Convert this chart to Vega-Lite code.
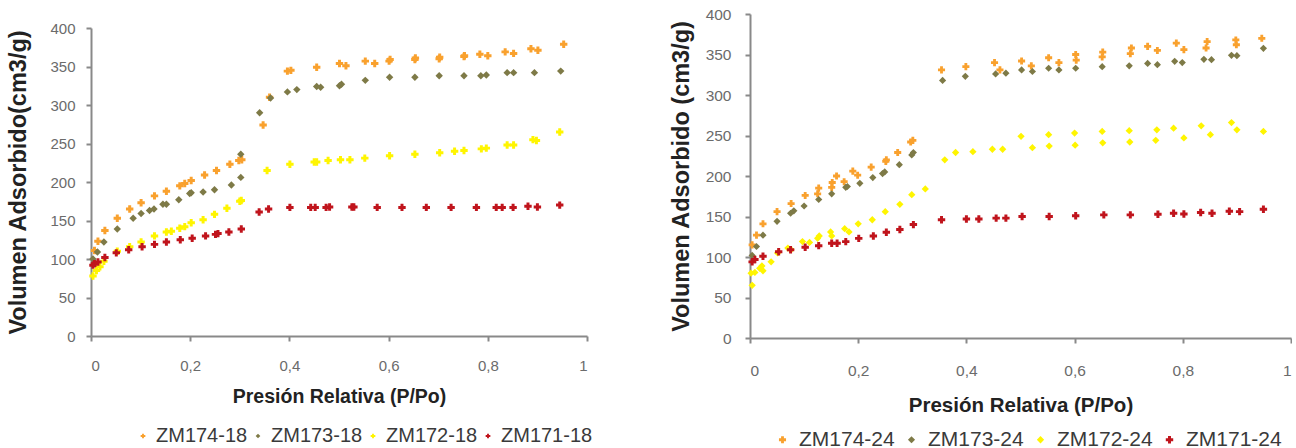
{
  "$schema": "https://vega.github.io/schema/vega-lite/v6.json",
  "padding": {"left": 6, "top": 7, "right": 0, "bottom": 0},
  "background": "white",
  "spacing": 163,
  "bounds": "flush",
  "config": {
    "view": {"stroke": null},
    "axis": {"grid": false, "domainColor": "#898989", "domainWidth": 2, "tickColor": "#898989", "tickWidth": 2, "tickSize": 5, "labelColor": "#6b6b6b", "labelFont": "Liberation Sans", "titleFont": "Liberation Sans", "titleFontWeight": "bold", "titleColor": "#222222"},
    "legend": {"labelFont": "Liberation Sans", "labelColor": "#3a3a3a", "symbolSize": 22, "labelOffset": 6, "symbolStrokeWidth": 0}
  },
  "datasets": {
    "d18": [
      {"s":"ZM174-18","p":0.007,"v":111},{"s":"ZM174-18","p":0.014,"v":123},{"s":"ZM174-18","p":0.028,"v":137},{"s":"ZM174-18","p":0.053,"v":153},{"s":"ZM174-18","p":0.078,"v":165},{"s":"ZM174-18","p":0.101,"v":173},{"s":"ZM174-18","p":0.128,"v":182},{"s":"ZM174-18","p":0.152,"v":188},{"s":"ZM174-18","p":0.179,"v":195},{"s":"ZM174-18","p":0.189,"v":198},{"s":"ZM174-18","p":0.202,"v":202},{"s":"ZM174-18","p":0.229,"v":209},{"s":"ZM174-18","p":0.253,"v":215},{"s":"ZM174-18","p":0.28,"v":223},{"s":"ZM174-18","p":0.298,"v":228},{"s":"ZM174-18","p":0.304,"v":229},{"s":"ZM174-18","p":0.347,"v":274},{"s":"ZM174-18","p":0.36,"v":310},{"s":"ZM174-18","p":0.396,"v":344},{"s":"ZM174-18","p":0.403,"v":345},{"s":"ZM174-18","p":0.455,"v":349},{"s":"ZM174-18","p":0.501,"v":354},{"s":"ZM174-18","p":0.514,"v":351},{"s":"ZM174-18","p":0.553,"v":357},{"s":"ZM174-18","p":0.572,"v":354},{"s":"ZM174-18","p":0.601,"v":357},{"s":"ZM174-18","p":0.603,"v":359},{"s":"ZM174-18","p":0.653,"v":359},{"s":"ZM174-18","p":0.654,"v":361},{"s":"ZM174-18","p":0.702,"v":360},{"s":"ZM174-18","p":0.703,"v":362},{"s":"ZM174-18","p":0.752,"v":363},{"s":"ZM174-18","p":0.753,"v":364},{"s":"ZM174-18","p":0.784,"v":366},{"s":"ZM174-18","p":0.8,"v":364},{"s":"ZM174-18","p":0.835,"v":369},{"s":"ZM174-18","p":0.852,"v":367},{"s":"ZM174-18","p":0.887,"v":373},{"s":"ZM174-18","p":0.901,"v":371},{"s":"ZM174-18","p":0.953,"v":379},
      {"s":"ZM173-18","p":0.004,"v":100},{"s":"ZM173-18","p":0.013,"v":109},{"s":"ZM173-18","p":0.026,"v":122},{"s":"ZM173-18","p":0.053,"v":139},{"s":"ZM173-18","p":0.085,"v":153},{"s":"ZM173-18","p":0.101,"v":159},{"s":"ZM173-18","p":0.118,"v":163},{"s":"ZM173-18","p":0.127,"v":165},{"s":"ZM173-18","p":0.145,"v":171},{"s":"ZM173-18","p":0.152,"v":171},{"s":"ZM173-18","p":0.177,"v":177},{"s":"ZM173-18","p":0.199,"v":185},{"s":"ZM173-18","p":0.202,"v":186},{"s":"ZM173-18","p":0.226,"v":187},{"s":"ZM173-18","p":0.249,"v":190},{"s":"ZM173-18","p":0.283,"v":196},{"s":"ZM173-18","p":0.302,"v":206},{"s":"ZM173-18","p":0.302,"v":236},{"s":"ZM173-18","p":0.34,"v":290},{"s":"ZM173-18","p":0.362,"v":309},{"s":"ZM173-18","p":0.396,"v":317},{"s":"ZM173-18","p":0.415,"v":320},{"s":"ZM173-18","p":0.455,"v":324},{"s":"ZM173-18","p":0.463,"v":323},{"s":"ZM173-18","p":0.501,"v":325},{"s":"ZM173-18","p":0.505,"v":327},{"s":"ZM173-18","p":0.553,"v":332},{"s":"ZM173-18","p":0.602,"v":336},{"s":"ZM173-18","p":0.653,"v":336},{"s":"ZM173-18","p":0.702,"v":338},{"s":"ZM173-18","p":0.752,"v":338},{"s":"ZM173-18","p":0.786,"v":338},{"s":"ZM173-18","p":0.797,"v":339},{"s":"ZM173-18","p":0.839,"v":342},{"s":"ZM173-18","p":0.852,"v":342},{"s":"ZM173-18","p":0.894,"v":342},{"s":"ZM173-18","p":0.947,"v":344},
      {"s":"ZM172-18","p":0.004,"v":78},{"s":"ZM172-18","p":0.011,"v":85},{"s":"ZM172-18","p":0.018,"v":90},{"s":"ZM172-18","p":0.026,"v":97},{"s":"ZM172-18","p":0.053,"v":110},{"s":"ZM172-18","p":0.078,"v":116},{"s":"ZM172-18","p":0.101,"v":122},{"s":"ZM172-18","p":0.128,"v":130},{"s":"ZM172-18","p":0.152,"v":135},{"s":"ZM172-18","p":0.162,"v":136},{"s":"ZM172-18","p":0.179,"v":140},{"s":"ZM172-18","p":0.189,"v":142},{"s":"ZM172-18","p":0.202,"v":147},{"s":"ZM172-18","p":0.226,"v":151},{"s":"ZM172-18","p":0.249,"v":158},{"s":"ZM172-18","p":0.274,"v":166},{"s":"ZM172-18","p":0.3,"v":175},{"s":"ZM172-18","p":0.303,"v":176},{"s":"ZM172-18","p":0.355,"v":215},{"s":"ZM172-18","p":0.401,"v":223},{"s":"ZM172-18","p":0.45,"v":226},{"s":"ZM172-18","p":0.455,"v":226},{"s":"ZM172-18","p":0.478,"v":228},{"s":"ZM172-18","p":0.503,"v":229},{"s":"ZM172-18","p":0.522,"v":229},{"s":"ZM172-18","p":0.552,"v":231},{"s":"ZM172-18","p":0.602,"v":234},{"s":"ZM172-18","p":0.653,"v":236},{"s":"ZM172-18","p":0.703,"v":238},{"s":"ZM172-18","p":0.733,"v":240},{"s":"ZM172-18","p":0.752,"v":241},{"s":"ZM172-18","p":0.787,"v":243},{"s":"ZM172-18","p":0.797,"v":244},{"s":"ZM172-18","p":0.839,"v":248},{"s":"ZM172-18","p":0.852,"v":248},{"s":"ZM172-18","p":0.891,"v":255},{"s":"ZM172-18","p":0.898,"v":254},{"s":"ZM172-18","p":0.945,"v":265},
      {"s":"ZM171-18","p":0.004,"v":92},{"s":"ZM171-18","p":0.007,"v":94},{"s":"ZM171-18","p":0.014,"v":96},{"s":"ZM171-18","p":0.028,"v":102},{"s":"ZM171-18","p":0.051,"v":108},{"s":"ZM171-18","p":0.076,"v":112},{"s":"ZM171-18","p":0.103,"v":116},{"s":"ZM171-18","p":0.128,"v":119},{"s":"ZM171-18","p":0.152,"v":122},{"s":"ZM171-18","p":0.18,"v":125},{"s":"ZM171-18","p":0.204,"v":127},{"s":"ZM171-18","p":0.231,"v":130},{"s":"ZM171-18","p":0.251,"v":132},{"s":"ZM171-18","p":0.256,"v":133},{"s":"ZM171-18","p":0.278,"v":135},{"s":"ZM171-18","p":0.303,"v":139},{"s":"ZM171-18","p":0.339,"v":161},{"s":"ZM171-18","p":0.358,"v":165},{"s":"ZM171-18","p":0.401,"v":167},{"s":"ZM171-18","p":0.443,"v":167},{"s":"ZM171-18","p":0.452,"v":167},{"s":"ZM171-18","p":0.474,"v":167},{"s":"ZM171-18","p":0.481,"v":167.5},{"s":"ZM171-18","p":0.526,"v":167.5},{"s":"ZM171-18","p":0.53,"v":167.5},{"s":"ZM171-18","p":0.577,"v":167},{"s":"ZM171-18","p":0.627,"v":167},{"s":"ZM171-18","p":0.676,"v":167},{"s":"ZM171-18","p":0.726,"v":167},{"s":"ZM171-18","p":0.777,"v":167},{"s":"ZM171-18","p":0.817,"v":167},{"s":"ZM171-18","p":0.829,"v":167},{"s":"ZM171-18","p":0.851,"v":167},{"s":"ZM171-18","p":0.881,"v":168.5},{"s":"ZM171-18","p":0.9,"v":167.5},{"s":"ZM171-18","p":0.945,"v":170}
    ],
    "d24": [
      {"s":"ZM174-24","p":0.004,"v":115},{"s":"ZM174-24","p":0.012,"v":127},{"s":"ZM174-24","p":0.024,"v":141},{"s":"ZM174-24","p":0.05,"v":156},{"s":"ZM174-24","p":0.076,"v":166},{"s":"ZM174-24","p":0.102,"v":176},{"s":"ZM174-24","p":0.125,"v":178},{"s":"ZM174-24","p":0.127,"v":185},{"s":"ZM174-24","p":0.151,"v":186},{"s":"ZM174-24","p":0.152,"v":192},{"s":"ZM174-24","p":0.16,"v":200},{"s":"ZM174-24","p":0.174,"v":193},{"s":"ZM174-24","p":0.19,"v":206},{"s":"ZM174-24","p":0.199,"v":201},{"s":"ZM174-24","p":0.224,"v":211},{"s":"ZM174-24","p":0.251,"v":218},{"s":"ZM174-24","p":0.252,"v":220},{"s":"ZM174-24","p":0.273,"v":229},{"s":"ZM174-24","p":0.297,"v":242},{"s":"ZM174-24","p":0.301,"v":244},{"s":"ZM174-24","p":0.354,"v":331},{"s":"ZM174-24","p":0.399,"v":335},{"s":"ZM174-24","p":0.452,"v":340},{"s":"ZM174-24","p":0.462,"v":331},{"s":"ZM174-24","p":0.502,"v":342},{"s":"ZM174-24","p":0.52,"v":336},{"s":"ZM174-24","p":0.552,"v":346},{"s":"ZM174-24","p":0.571,"v":340},{"s":"ZM174-24","p":0.602,"v":350},{"s":"ZM174-24","p":0.603,"v":343},{"s":"ZM174-24","p":0.652,"v":353},{"s":"ZM174-24","p":0.651,"v":347},{"s":"ZM174-24","p":0.705,"v":358},{"s":"ZM174-24","p":0.703,"v":351},{"s":"ZM174-24","p":0.735,"v":360},{"s":"ZM174-24","p":0.753,"v":355},{"s":"ZM174-24","p":0.788,"v":364},{"s":"ZM174-24","p":0.802,"v":356},{"s":"ZM174-24","p":0.845,"v":366},{"s":"ZM174-24","p":0.843,"v":358},{"s":"ZM174-24","p":0.898,"v":368},{"s":"ZM174-24","p":0.899,"v":362},{"s":"ZM174-24","p":0.946,"v":370},
      {"s":"ZM173-24","p":0.004,"v":102},{"s":"ZM173-24","p":0.012,"v":113},{"s":"ZM173-24","p":0.024,"v":127},{"s":"ZM173-24","p":0.05,"v":144},{"s":"ZM173-24","p":0.075,"v":154},{"s":"ZM173-24","p":0.081,"v":157},{"s":"ZM173-24","p":0.1,"v":163},{"s":"ZM173-24","p":0.127,"v":171},{"s":"ZM173-24","p":0.151,"v":178},{"s":"ZM173-24","p":0.177,"v":186},{"s":"ZM173-24","p":0.18,"v":187},{"s":"ZM173-24","p":0.203,"v":191},{"s":"ZM173-24","p":0.227,"v":198},{"s":"ZM173-24","p":0.245,"v":203},{"s":"ZM173-24","p":0.249,"v":205},{"s":"ZM173-24","p":0.276,"v":214},{"s":"ZM173-24","p":0.299,"v":226},{"s":"ZM173-24","p":0.302,"v":229},{"s":"ZM173-24","p":0.356,"v":318},{"s":"ZM173-24","p":0.398,"v":323},{"s":"ZM173-24","p":0.454,"v":326},{"s":"ZM173-24","p":0.473,"v":327},{"s":"ZM173-24","p":0.502,"v":331},{"s":"ZM173-24","p":0.522,"v":329},{"s":"ZM173-24","p":0.552,"v":333},{"s":"ZM173-24","p":0.571,"v":331},{"s":"ZM173-24","p":0.602,"v":333},{"s":"ZM173-24","p":0.651,"v":335},{"s":"ZM173-24","p":0.701,"v":336},{"s":"ZM173-24","p":0.735,"v":339},{"s":"ZM173-24","p":0.753,"v":337.5},{"s":"ZM173-24","p":0.785,"v":341.6},{"s":"ZM173-24","p":0.799,"v":340},{"s":"ZM173-24","p":0.839,"v":344},{"s":"ZM173-24","p":0.853,"v":343.6},{"s":"ZM173-24","p":0.89,"v":349},{"s":"ZM173-24","p":0.9,"v":348.5},{"s":"ZM173-24","p":0.949,"v":357.6},
      {"s":"ZM172-24","p":0.004,"v":65},{"s":"ZM172-24","p":0.002,"v":80},{"s":"ZM172-24","p":0.009,"v":81},{"s":"ZM172-24","p":0.018,"v":86},{"s":"ZM172-24","p":0.024,"v":83},{"s":"ZM172-24","p":0.022,"v":89},{"s":"ZM172-24","p":0.039,"v":94},{"s":"ZM172-24","p":0.051,"v":105},{"s":"ZM172-24","p":0.07,"v":111},{"s":"ZM172-24","p":0.076,"v":109},{"s":"ZM172-24","p":0.097,"v":119},{"s":"ZM172-24","p":0.11,"v":118},{"s":"ZM172-24","p":0.125,"v":123},{"s":"ZM172-24","p":0.128,"v":126},{"s":"ZM172-24","p":0.149,"v":131},{"s":"ZM172-24","p":0.151,"v":126},{"s":"ZM172-24","p":0.175,"v":135},{"s":"ZM172-24","p":0.183,"v":131},{"s":"ZM172-24","p":0.2,"v":141},{"s":"ZM172-24","p":0.226,"v":146},{"s":"ZM172-24","p":0.25,"v":156},{"s":"ZM172-24","p":0.277,"v":165},{"s":"ZM172-24","p":0.299,"v":177},{"s":"ZM172-24","p":0.324,"v":184},{"s":"ZM172-24","p":0.36,"v":220},{"s":"ZM172-24","p":0.38,"v":229},{"s":"ZM172-24","p":0.412,"v":230},{"s":"ZM172-24","p":0.448,"v":233},{"s":"ZM172-24","p":0.467,"v":233},{"s":"ZM172-24","p":0.501,"v":249},{"s":"ZM172-24","p":0.522,"v":235},{"s":"ZM172-24","p":0.552,"v":251},{"s":"ZM172-24","p":0.553,"v":237},{"s":"ZM172-24","p":0.6,"v":253},{"s":"ZM172-24","p":0.601,"v":238},{"s":"ZM172-24","p":0.651,"v":255},{"s":"ZM172-24","p":0.652,"v":241},{"s":"ZM172-24","p":0.701,"v":256},{"s":"ZM172-24","p":0.702,"v":242},{"s":"ZM172-24","p":0.752,"v":257},{"s":"ZM172-24","p":0.75,"v":244},{"s":"ZM172-24","p":0.783,"v":259},{"s":"ZM172-24","p":0.802,"v":247},{"s":"ZM172-24","p":0.834,"v":262},{"s":"ZM172-24","p":0.851,"v":251},{"s":"ZM172-24","p":0.89,"v":266},{"s":"ZM172-24","p":0.9,"v":257},{"s":"ZM172-24","p":0.949,"v":255},
      {"s":"ZM171-24","p":0.004,"v":94},{"s":"ZM171-24","p":0.009,"v":97},{"s":"ZM171-24","p":0.024,"v":101},{"s":"ZM171-24","p":0.053,"v":106.5},{"s":"ZM171-24","p":0.075,"v":109},{"s":"ZM171-24","p":0.102,"v":112},{"s":"ZM171-24","p":0.127,"v":114},{"s":"ZM171-24","p":0.151,"v":117},{"s":"ZM171-24","p":0.161,"v":117},{"s":"ZM171-24","p":0.177,"v":119},{"s":"ZM171-24","p":0.201,"v":123},{"s":"ZM171-24","p":0.228,"v":126},{"s":"ZM171-24","p":0.252,"v":130.5},{"s":"ZM171-24","p":0.277,"v":134},{"s":"ZM171-24","p":0.302,"v":140},{"s":"ZM171-24","p":0.354,"v":146},{"s":"ZM171-24","p":0.4,"v":147},{"s":"ZM171-24","p":0.423,"v":147},{"s":"ZM171-24","p":0.455,"v":148},{"s":"ZM171-24","p":0.473,"v":148},{"s":"ZM171-24","p":0.503,"v":150},{"s":"ZM171-24","p":0.553,"v":150},{"s":"ZM171-24","p":0.602,"v":151},{"s":"ZM171-24","p":0.654,"v":152},{"s":"ZM171-24","p":0.703,"v":152},{"s":"ZM171-24","p":0.754,"v":152.7},{"s":"ZM171-24","p":0.783,"v":154},{"s":"ZM171-24","p":0.802,"v":153},{"s":"ZM171-24","p":0.833,"v":155},{"s":"ZM171-24","p":0.854,"v":154},{"s":"ZM171-24","p":0.886,"v":156.4},{"s":"ZM171-24","p":0.905,"v":156},{"s":"ZM171-24","p":0.949,"v":159}
    ]
  },
  "resolve": {"scale": {"color": "independent", "shape": "independent", "size": "independent", "x": "independent", "y": "independent"}, "legend": {"color": "independent", "shape": "independent", "size": "independent"}},
  "hconcat": [
    {
      "width": 496,
      "height": 322,
      "data": {"name": "d18"},
      "mark": {"type": "point", "filled": true, "opacity": 1, "size": 55},
      "encoding": {
        "x": {"field": "p", "type": "quantitative", "scale": {"domain": [0, 1], "nice": false},
          "axis": {"title": "Presión Relativa (P/Po)", "values": [0, 0.2, 0.4, 0.6, 0.8, 1], "labelExpr": "replace(format(datum.value, '~g'), '.', ',')", "labelFontSize": 15, "labelPadding": 17, "titlePadding": 14, "titleFontSize": 19.5}},
        "y": {"field": "v", "type": "quantitative", "scale": {"domain": [0, 400], "nice": false, "range": [322, 14]},
          "axis": {"title": "Volumen Adsorbido(cm3/g)", "values": [0, 50, 100, 150, 200, 250, 300, 350, 400], "labelFontSize": 15, "labelPadding": 11, "titlePadding": 19, "titleFontSize": 23.5}},
        "color": {"field": "s", "type": "nominal", "sort": ["ZM174-18", "ZM173-18", "ZM172-18", "ZM171-18"],
          "scale": {"domain": ["ZM174-18", "ZM173-18", "ZM172-18", "ZM171-18"], "range": ["#F9A12E", "#7E7A47", "#FFF500", "#C0141C"]},
          "legend": {"title": null, "orient": "none", "direction": "horizontal", "legendX": 42, "legendY": 412, "labelFontSize": 20, "columnPadding": 0, "labelOffset": 3}},
        "shape": {"field": "s", "type": "nominal", "sort": ["ZM174-18", "ZM173-18", "ZM172-18", "ZM171-18"],
          "scale": {"domain": ["ZM174-18", "ZM173-18", "ZM172-18", "ZM171-18"], "range": ["cross", "diamond", "cross", "cross"]},
          "legend": {"title": null, "orient": "none", "direction": "horizontal", "legendX": 42, "legendY": 412, "labelFontSize": 20, "columnPadding": 0, "labelOffset": 3}}
      }
    },
    {
      "width": 541,
      "height": 324,
      "data": {"name": "d24"},
      "mark": {"type": "point", "filled": true, "opacity": 1},
      "encoding": {
        "x": {"field": "p", "type": "quantitative", "scale": {"domain": [0, 1], "nice": false},
          "axis": {"title": "Presión Relativa (P/Po)", "values": [0, 0.2, 0.4, 0.6, 0.8, 1], "labelExpr": "replace(format(datum.value, '~g'), '.', ',')", "labelFontSize": 15.5, "labelPadding": 20, "titlePadding": 17, "titleFontSize": 20.5}},
        "y": {"field": "v", "type": "quantitative", "scale": {"domain": [0, 400], "nice": false},
          "axis": {"title": "Volumen Adsorbido (cm3/g)", "values": [0, 50, 100, 150, 200, 250, 300, 350, 400], "labelFontSize": 15.5, "labelPadding": 14, "titlePadding": 12, "titleFontSize": 23.5}},
        "color": {"field": "s", "type": "nominal", "sort": ["ZM174-24", "ZM173-24", "ZM172-24", "ZM171-24"],
          "scale": {"domain": ["ZM174-24", "ZM173-24", "ZM172-24", "ZM171-24"], "range": ["#F9A12E", "#7E7A47", "#FFF500", "#C0141C"]},
          "legend": {"title": null, "orient": "none", "direction": "horizontal", "legendX": 22, "legendY": 415, "labelFontSize": 21, "columnPadding": 6}},
        "shape": {"field": "s", "type": "nominal", "sort": ["ZM174-24", "ZM173-24", "ZM172-24", "ZM171-24"],
          "scale": {"domain": ["ZM174-24", "ZM173-24", "ZM172-24", "ZM171-24"], "range": ["cross", "diamond", "diamond", "cross"]},
          "legend": {"title": null, "orient": "none", "direction": "horizontal", "legendX": 22, "legendY": 415, "labelFontSize": 21, "columnPadding": 6}},
        "size": {"field": "s", "type": "nominal", "sort": ["ZM174-24", "ZM173-24", "ZM172-24", "ZM171-24"],
          "scale": {"domain": ["ZM174-24", "ZM173-24", "ZM172-24", "ZM171-24"], "range": [50, 55, 120, 50]},
          "legend": null}
      }
    }
  ]
}
